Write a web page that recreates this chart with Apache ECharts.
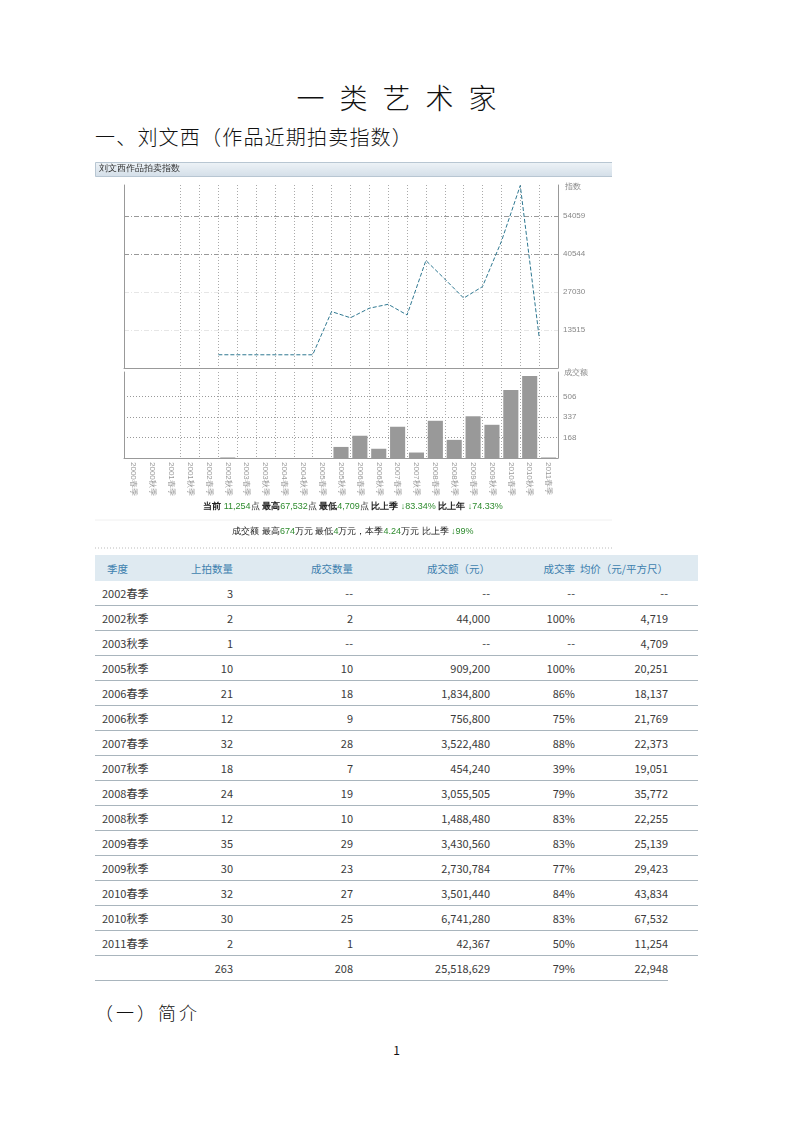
<!DOCTYPE html>
<html><head><meta charset="utf-8">
<script src="https://cdn.jsdelivr.net/npm/echarts@6/dist/echarts.min.js"></script>
<style>
html,body{margin:0;padding:0;background:#fff}
body{width:793px;height:1122px;position:relative;overflow:hidden;font-family:"Noto Sans CJK SC",sans-serif}
.t{position:absolute;white-space:nowrap;color:#111;line-height:1}
#chart{position:absolute;left:95px;top:162px;width:517px;height:388px}
#tbl{position:absolute;left:95px;top:555px;border-collapse:collapse;table-layout:fixed;font-size:11px;color:#3a3a3a;width:603px}
#tbl th{background:#dfeaf1;color:#3d7fae;font-weight:normal;height:26px;padding:0;text-align:right;font-size:10.5px}
#tbl td{height:24px;padding:0;text-align:right;border-bottom:1px solid #a9b5bd}
#tbl td:first-child{text-align:left;padding-left:7px}
#tbl th:first-child{text-align:left;padding-left:12px}
#tbl td.e{border-bottom:none}
</style></head>
<body>
<div class="t" style="left:0;width:793px;text-align:center;top:83px;font-size:28px;font-weight:300;letter-spacing:15px;text-indent:15px">一类艺术家</div>
<div class="t" style="left:95px;top:127px;font-size:20px;font-weight:300;letter-spacing:1.2px">一、刘文西（作品近期拍卖指数）</div>
<div id="chart"></div>
<table id="tbl"><colgroup><col style="width:70px"><col style="width:68px"><col style="width:120px"><col style="width:137px"><col style="width:85px"><col style="width:93px"><col style="width:30px"></colgroup><thead></thead><tbody></tbody></table>
<div class="t" style="left:95px;top:1003px;font-size:18px;font-weight:300;letter-spacing:3px">（一）简介</div>
<div class="t" style="left:0;width:793px;text-align:center;top:1044px;font-size:12px">1</div>
<script>
// ---- chart data ----
const categories = ['2000春季','2000秋季','2001春季','2001秋季','2002春季','2002秋季','2003春季','2003秋季','2004春季','2004秋季','2005春季','2005秋季','2006春季','2006秋季','2007春季','2007秋季','2008春季','2008秋季','2009春季','2009秋季','2010春季','2010秋季','2011春季'];
const indexValues = [null,null,null,null,null,4719,4719,4709,4709,4709,4709,20100,17900,21300,22700,18900,38300,31700,24900,29000,45100,65000,11100];
const turnoverWan = [null,null,null,null,null,4.4,null,null,null,null,null,91,183,76,257,45,306,149,343,273,559,674,4.2];
const indexTickLabels = ['13515','27030','40544','54059'];
const turnoverTickLabels = ['168','337','506'];
const indexStep = 13515;
const turnoverStep = 168.5;

// ---- table data ----
const tableHeader = ['季度','上拍数量','成交数量','成交额（元）','成交率','均价（元/平方尺）'];
const seasons = ['2002春季','2002秋季','2003秋季','2005秋季','2006春季','2006秋季','2007春季','2007秋季','2008春季','2008秋季','2009春季','2009秋季','2010春季','2010秋季','2011春季',''];
const lotsOffered = ['3','2','1','10','21','12','32','18','24','12','35','30','32','30','2','263'];
const lotsSold = ['--','2','--','10','18','9','28','7','19','10','29','23','27','25','1','208'];
const turnoverYuan = ['--','44,000','--','909,200','1,834,800','756,800','3,522,480','454,240','3,055,505','1,488,480','3,430,560','2,730,784','3,501,440','6,741,280','42,367','25,518,629'];
const sellRate = ['--','100%','--','100%','86%','75%','88%','39%','79%','83%','83%','77%','84%','83%','50%','79%'];
const avgPrice = ['--','4,719','4,709','20,251','18,137','21,769','22,373','19,051','35,772','22,255','25,139','29,423','43,834','67,532','11,254','22,948'];

// build table
const thead = document.querySelector('#tbl thead');
thead.innerHTML = '<tr>' + tableHeader.map(h => '<th>' + h + '</th>').join('') + '<th></th></tr>';
const tbody = document.querySelector('#tbl tbody');
let rows = '';
for (let i = 0; i < seasons.length; i++) {
  rows += '<tr><td>' + seasons[i] + '</td><td>' + lotsOffered[i] + '</td><td>' + lotsSold[i] + '</td><td>' + turnoverYuan[i] + '</td><td>' + sellRate[i] + '</td><td>' + avgPrice[i] + '</td><td class="' + (i === seasons.length - 1 ? 'e' : '') + '"></td></tr>';
}
tbody.innerHTML = rows;

function tickFmt(step, labels) {
  return function (v) {
    const k = Math.round(v / step);
    if (k < 1 || Math.abs(v - k * step) > 0.5) return '';
    return labels[k - 1] || '';
  };
}
// vertical dotted grid: none drawn at the first two inner boundaries
const vGridColors = categories.concat(['', '']).map((_, i) => (i >= 1 && i <= 2) ? 'rgba(0,0,0,0)' : '#aaa');

const chart = echarts.init(document.getElementById('chart'));
const green = '#2e8b2e';
const rich = {
  b: {fontSize: 9, fontWeight: 'bold', fill: '#222', color: '#222'},
  k: {fontSize: 9, fill: '#222', color: '#222'},
  g: {fontSize: 9, fill: green, color: green}
};
chart.setOption({
  animation: false,
  grid: [
    {left: 29, top: 23, width: 434, height: 183},
    {left: 29, top: 210, width: 434, height: 86}
  ],
  xAxis: [
    {gridIndex: 0, type: 'category', data: categories.concat(['']), boundaryGap: false, position: 'top',
      axisLine: {lineStyle: {color: '#999'}}, axisTick: {show: false}, axisLabel: {show: false},
      splitLine: {show: true, interval: 0, lineStyle: {color: vGridColors, type: [1, 2]}}},
    {gridIndex: 1, type: 'category', data: categories, boundaryGap: true, position: 'bottom',
      axisLine: {lineStyle: {color: '#999'}}, axisTick: {show: false},
      axisLabel: {interval: 0, rotate: -90, fontSize: 8, color: '#999', margin: 4},
      splitLine: {show: true, interval: 0, lineStyle: {color: vGridColors, type: [1, 2]}}}
  ],
  yAxis: [
    {gridIndex: 0, type: 'value', position: 'right', min: 0, max: 65200, interval: indexStep,
      axisLine: {show: true, lineStyle: {color: '#999'}}, axisTick: {show: false},
      axisLabel: {fontSize: 8, color: '#888', margin: 5, formatter: tickFmt(indexStep, indexTickLabels)},
      splitLine: {show: true, lineStyle: {type: [5, 2, 1, 2], color: ['rgba(0,0,0,0)', '#e6e6e6', '#e6e6e6', '#999', '#999', 'rgba(0,0,0,0)']}}},
    {gridIndex: 0, type: 'value', position: 'left', min: 0, max: 65200,
      axisLine: {show: true, lineStyle: {color: '#999'}}, axisTick: {show: false}, axisLabel: {show: false}, splitLine: {show: false}},
    {gridIndex: 1, type: 'value', position: 'right', min: 0, max: 707, interval: turnoverStep,
      axisLine: {show: true, lineStyle: {color: '#999'}}, axisTick: {show: false},
      axisLabel: {fontSize: 8, color: '#888', margin: 5, formatter: tickFmt(turnoverStep, turnoverTickLabels)},
      splitLine: {show: true, lineStyle: {type: [1, 2], color: ['rgba(0,0,0,0)', '#999', '#999', '#999', 'rgba(0,0,0,0)']}}},
    {gridIndex: 1, type: 'value', position: 'left', min: 0, max: 707,
      axisLine: {show: true, lineStyle: {color: '#999'}}, axisTick: {show: false}, axisLabel: {show: false}, splitLine: {show: false}}
  ],
  series: [
    {type: 'line', xAxisIndex: 0, yAxisIndex: 0, data: indexValues, symbol: 'none', connectNulls: false,
      lineStyle: {color: '#2f7891', width: 1, type: [4, 2]}, z: 5},
    {type: 'bar', xAxisIndex: 1, yAxisIndex: 2, data: turnoverWan, barCategoryGap: '20%',
      itemStyle: {color: '#999999'}}
  ],
  graphic: [
    {type: 'rect', left: 0, top: 0, shape: {width: 517, height: 14},
      style: {fill: new echarts.graphic.LinearGradient(0, 0, 0, 1, [{offset: 0, color: '#eef3f7'}, {offset: 1, color: '#d3dee8'}]), stroke: '#b8c6d2', lineWidth: 1}},
    {type: 'text', left: 4, top: 2, style: {text: '刘文西作品拍卖指数', fontSize: 9, fill: '#333'}},
    {type: 'text', left: 470, top: 21, style: {text: '指数', fontSize: 8, fill: '#888'}},
    {type: 'text', left: 469, top: 207, style: {text: '成交额', fontSize: 8, fill: '#888'}},
    {type: 'text', x: 258, y: 345, style: {
      text: '{b|当前 }{g|11,254}{k|点 }{b|最高}{g|67,532}{k|点 }{b|最低}{g|4,709}{k|点 }{b|比上季 }{g|↓83.34%}{b| 比上年 }{g|↓74.33%}',
      rich: rich, align: 'center', verticalAlign: 'middle'}},
    {type: 'line', shape: {x1: 0, y1: 358, x2: 517, y2: 358}, style: {stroke: '#f0f0f0', lineWidth: 1}},
    {type: 'text', x: 258, y: 370, style: {
      text: '{k|成交额 最高}{g|674}{k|万元 最低}{g|4}{k|万元，本季}{g|4.24}{k|万元 比上季 }{g|↓99%}',
      rich: rich, align: 'center', verticalAlign: 'middle'}},
    {type: 'line', shape: {x1: 0, y1: 386, x2: 517, y2: 386}, style: {stroke: '#bbb', lineWidth: 1, lineDash: [1, 2]}}
  ]
});
</script>
</body></html>
